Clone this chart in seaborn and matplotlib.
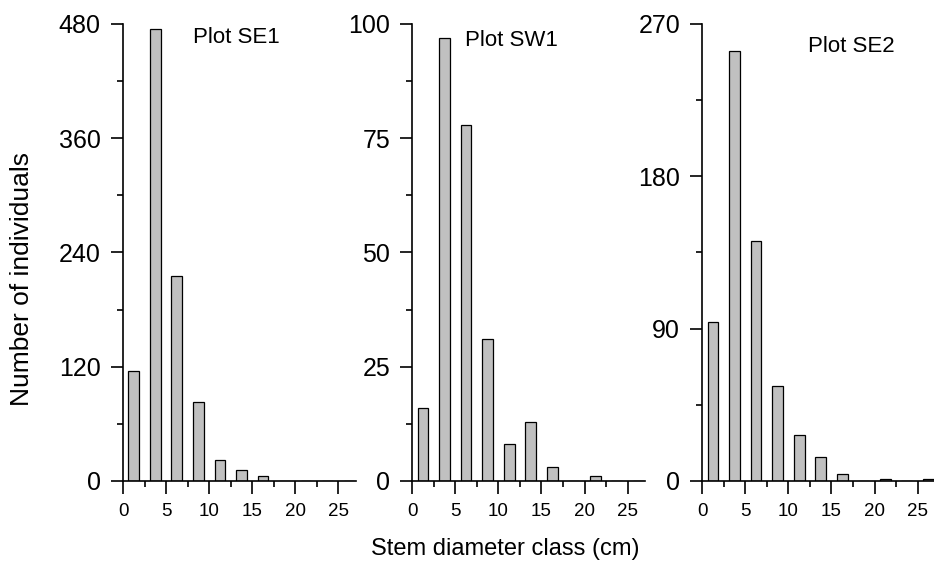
import matplotlib
matplotlib.use("Agg")
import matplotlib.pyplot as plt
from matplotlib.ticker import MultipleLocator, FixedLocator
import seaborn as sns
import pandas as pd

# Stem diameter classes (class midpoints, cm)
classes = [1.25, 3.75, 6.25, 8.75, 11.25, 13.75, 16.25, 18.75, 21.25, 23.75, 26.25]

# Number of individuals per class in each plot
se1_counts = [116, 475, 215, 83, 22, 12, 5, 0, 0, 0, 0]
sw1_counts = [16, 97, 78, 31, 8, 13, 3, 0, 1, 0, 0]
se2_counts = [94, 254, 142, 56, 27, 14, 4, 0, 1, 0, 1]

plot_names = ["Plot SE1", "Plot SW1", "Plot SE2"]
y_tops = [480, 100, 270]
y_major_steps = [120, 25, 90]
x_major_ticks = [0, 5, 10, 15, 20, 25]

x_label = "Stem diameter class (cm)"
y_label = "Number of individuals"

sns.set_style("ticks")
plt.rcParams["font.family"] = ["Liberation Sans", "DejaVu Sans"]
plt.rcParams["text.color"] = "black"
plt.rcParams["axes.labelcolor"] = "black"
plt.rcParams["xtick.color"] = "black"
plt.rcParams["ytick.color"] = "black"
plt.rcParams["axes.edgecolor"] = "black"

fig = plt.figure(figsize=(9.34, 5.68), dpi=100)

lefts = [0.1317, 0.4414, 0.7519]
width = 0.249
bottom = 0.1532
height = 0.8046
label_pos = [(0.301, 0.958), (0.228, 0.9525), (0.454, 0.9376)]

all_counts = [se1_counts, sw1_counts, se2_counts]

for i in range(3):
    ax = fig.add_axes([lefts[i], bottom, width, height])
    df = pd.DataFrame({"cls": classes, "n": all_counts[i]})
    sns.barplot(data=df, x="cls", y="n", native_scale=True, width=0.5,
                color="#c0c0c0", saturation=1, edgecolor="black",
                linewidth=0.9, ax=ax)
    ax.set_xlim(0, 27)
    ax.set_ylim(0, y_tops[i])
    ax.set_xlabel("")
    ax.set_ylabel("")
    ax.spines["top"].set_visible(False)
    ax.spines["right"].set_visible(False)
    ax.spines["left"].set_linewidth(1.2)
    ax.spines["bottom"].set_linewidth(1.2)
    ax.spines["bottom"].set_zorder(5)
    ax.xaxis.set_major_locator(FixedLocator(x_major_ticks))
    ax.xaxis.set_minor_locator(FixedLocator([2.5, 7.5, 12.5, 17.5, 22.5]))
    ax.yaxis.set_major_locator(MultipleLocator(y_major_steps[i]))
    ax.yaxis.set_minor_locator(MultipleLocator(y_major_steps[i] / 2))
    ax.tick_params(axis="both", which="major", direction="out", length=9,
                   width=1.2, color="black", pad=7)
    ax.tick_params(axis="both", which="minor", direction="out", length=4.5,
                   width=1.2, color="black")
    ax.tick_params(axis="x", which="major", labelsize=13.5, pad=7,
                   labelcolor="black")
    ax.tick_params(axis="y", which="major", labelsize=18, pad=7,
                   labelcolor="black")
    ax.patch.set_alpha(0)
    ax.text(label_pos[i][0], label_pos[i][1], plot_names[i],
            transform=ax.transAxes, fontsize=16, ha="left", va="baseline",
            color="black")

fig.text(0.541, 0.0229, x_label, fontsize=17, ha="center", va="baseline",
         color="black")
fig.text(0.0236, 0.5088, y_label, fontsize=19, rotation=90,
         ha="center", va="center", color="black")

fig.savefig("out.png", dpi=100, facecolor="white")
